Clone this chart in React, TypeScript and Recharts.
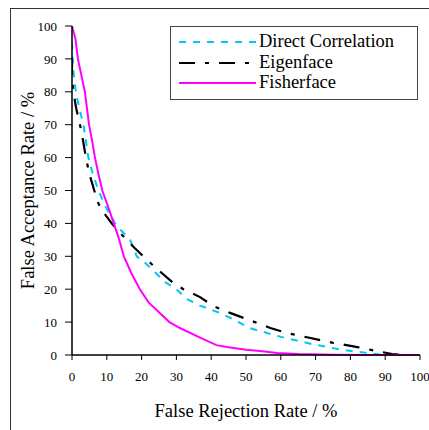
import React from 'react';
import { LineChart, Line, XAxis, YAxis, Legend } from 'recharts';

const xTicks = [0, 10, 20, 30, 40, 50, 60, 70, 80, 90, 100];
const yTicks = [0, 10, 20, 30, 40, 50, 60, 70, 80, 90, 100];

const directX = [0, 0.2, 0.5, 1.1, 2.1, 3.3, 4, 4.7, 6, 7.6, 9.7, 12.4, 14, 16.7, 18.6, 21, 24, 27, 30, 33, 36.8, 42.5, 47, 51, 55, 60, 65, 69, 74, 78, 82, 85, 88, 90, 100];
const directY = [95, 90, 85, 80, 75, 70, 65, 60, 55, 50, 45, 40, 38, 35, 30, 28, 25, 22, 20, 17, 15, 12.8, 10.5, 8.2, 7, 5.5, 4.3, 3.3, 2.3, 1.5, 1, 0.6, 0.2, 0, 0];

const eigenX = [0, 0, 0.2, 0.4, 1.2, 2.3, 3.2, 4, 5, 6.4, 7.6, 9.3, 11.4, 13.5, 15.7, 18, 20.5, 23, 25.7, 29, 32, 36.8, 40.6, 45.4, 51, 57, 61.7, 67.5, 75, 82, 88.5, 92, 95, 100];
const eigenY = [90, 85, 82, 80, 75, 70, 65, 60, 55, 50, 46, 43, 40, 37.5, 35, 32.5, 30, 27.5, 25, 22, 20, 17.6, 14.9, 12.8, 10.6, 8.2, 6.7, 5.4, 3.7, 2.4, 1, 0.3, 0, 0];

const fisherX = [0, 0.5, 1, 1.7, 2.7, 3.7, 4.9, 5.8, 6.6, 7.6, 8.7, 10.4, 12, 13.3, 14.9, 17, 19.5, 22, 25.3, 28, 31, 36.8, 41.5, 44.5, 50, 54, 59, 65, 75, 85, 100];
const fisherY = [100, 98, 96, 90, 85, 80, 70, 65, 60, 55, 50, 45, 40, 36, 30, 25, 20, 16, 12.7, 10, 8.2, 5.3, 3, 2.4, 1.6, 1.2, 0.6, 0.3, 0.1, 0, 0];

const seriesNames = ['Direct Correlation', 'Eigenface', 'Fisherface'];
const seriesColors = ['#00C8F5', '#000000', '#FF00FF'];
const seriesDash = ['7 7', '16 10 4 10', undefined];

const zip = (xs: number[], ys: number[]) => xs.map((x, i) => ({ x, y: ys[i] }));
const directData = zip(directX, directY);
const eigenData = zip(eigenX, eigenY);
const fisherData = zip(fisherX, fisherY);

const FONT = "'Times New Roman', Times, 'Liberation Serif', serif";

const LegendBox = () => (
  <div
    style={{
      width: 248,
      height: 74,
      boxSizing: 'border-box',
      border: '1px solid #444',
      background: '#fff',
      position: 'relative',
      fontFamily: FONT,
      fontSize: 18.5,
      color: '#000',
    }}
  >
    {seriesNames.map((name, i) => (
      <div key={name} style={{ position: 'absolute', left: 0, top: 5 + i * 20.5, height: 20, width: 246 }}>
        <svg width={90} height={20} style={{ position: 'absolute', left: 0, top: 0 }}>
          <line x1={8} x2={85} y1={10} y2={10} stroke={seriesColors[i]} strokeWidth={2} strokeDasharray={seriesDash[i]} />
        </svg>
        <span style={{ position: 'absolute', left: 88, top: -1, lineHeight: '20px', whiteSpace: 'nowrap' }}>{name}</span>
      </div>
    ))}
  </div>
);

export default function App() {
  return (
    <div style={{ position: 'absolute', left: 0, top: 0, width: 429, height: 430, overflow: 'hidden', background: '#fff', fontFamily: FONT }}>
      <div style={{ position: 'absolute', left: 10, top: 8, width: 600, height: 600, borderLeft: '1px solid #333', borderTop: '1px solid #333' }} />
      <LineChart width={429} height={430} margin={{ top: 26, right: 9, bottom: 0, left: 0 }} style={{ fontFamily: FONT }}>
        <XAxis
          type="number"
          dataKey="x"
          domain={[0, 100]}
          ticks={xTicks}
          interval={0}
          height={75}
          tickSize={5}
          tickMargin={12}
          axisLine={{ stroke: '#000', strokeWidth: 1.5 }}
          tickLine={{ stroke: '#000' }}
          tick={{ fill: '#000', fontSize: 13, fontFamily: FONT }}
          allowDataOverflow
          label={{ value: 'False Rejection Rate / %', position: 'center', dy: 18, fill: '#000', fontSize: 18.5, fontFamily: FONT }}
        />
        <YAxis
          type="number"
          dataKey="y"
          domain={[0, 100]}
          ticks={yTicks}
          interval={0}
          width={72}
          tickSize={7}
          tickMargin={8}
          axisLine={{ stroke: '#000', strokeWidth: 1.5 }}
          tickLine={{ stroke: '#000' }}
          tick={{ fill: '#000', fontSize: 13, fontFamily: FONT }}
          label={{ value: 'False Acceptance Rate / %', angle: -90, position: 'center', dx: -9, fill: '#000', fontSize: 18.5, fontFamily: FONT }}
        />
        <Legend
          layout="vertical"
          align="center"
          verticalAlign="middle"
          wrapperStyle={{ position: 'absolute', left: 170, top: 26, width: 248, height: 74 }}
          content={() => <LegendBox />}
        />
        <Line data={directData} dataKey="y" name={seriesNames[0]} type="linear" stroke={seriesColors[0]} strokeWidth={2} strokeDasharray={seriesDash[0]} dot={false} isAnimationActive={false} />
        <Line data={eigenData} dataKey="y" name={seriesNames[1]} type="linear" stroke={seriesColors[1]} strokeWidth={2.2} strokeDasharray={seriesDash[1]} dot={false} isAnimationActive={false} />
        <Line data={fisherData} dataKey="y" name={seriesNames[2]} type="linear" stroke={seriesColors[2]} strokeWidth={2} dot={false} isAnimationActive={false} />
      </LineChart>
    </div>
  );
}
